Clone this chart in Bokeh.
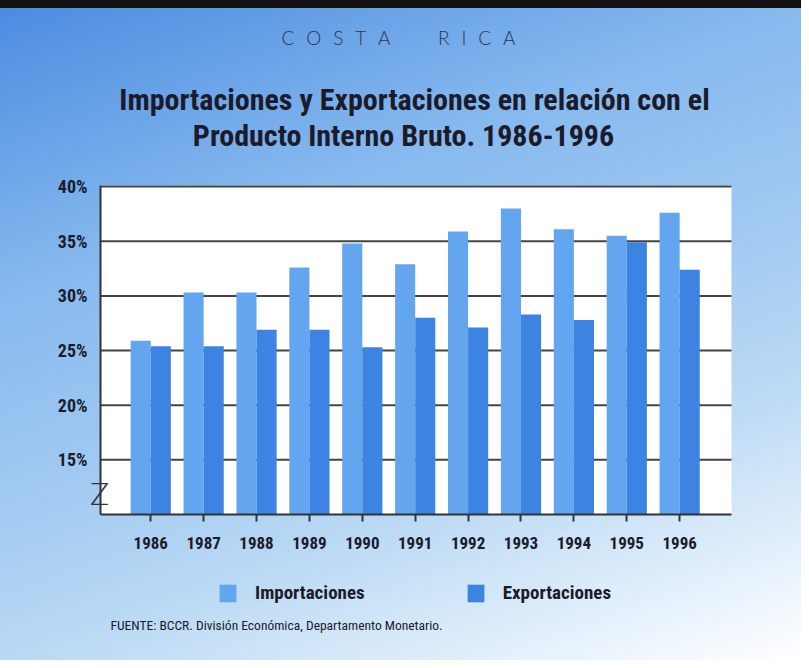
from bokeh.plotting import figure
from bokeh.models import Range1d, FixedTicker, Label, Legend, LegendItem, LinearAxis, BoxAnnotation
from bokeh.embed import file_html
from bokeh.resources import INLINE

years = ["1986", "1987", "1988", "1989", "1990", "1991", "1992", "1993", "1994", "1995", "1996"]
importaciones = [25.9, 30.3, 30.3, 32.6, 34.8, 32.9, 35.9, 38.0, 36.1, 35.5, 37.6]
exportaciones = [25.4, 25.4, 26.9, 26.9, 25.3, 28.0, 27.1, 28.3, 27.8, 34.9, 32.4]
y_ticks = [15, 20, 25, 30, 35, 40]

FONT = "'Liberation Sans Narrow', 'Roboto Condensed', 'Arial Narrow', sans-serif"
LIGHT = "'Lato Light', 'Open Sans Light', 'Lato', sans-serif"
DARK = "#1b1b2b"
C_IMP = "#64a5ef"
C_EXP = "#3d83e2"

# canvas geometry (pixels) and plot-area position
W, H = 801, 660
PL, PR, PT, PB = 100, 731, 185, 514          # plot area edges on canvas
XLO, XHI = -0.95, 10.98                      # data extent of plot area (x)
YLO, YHI = 10.0, 40.1                        # data extent of plot area (y)
kx = (XHI - XLO) / (PR - PL)
ky = (YHI - YLO) / (PB - PT)
x_range = Range1d(XLO - PL * kx, XHI + (W - PR) * kx)
y_range = Range1d(YLO - (H - PB) * ky, YHI + PT * ky)

idx = list(range(len(years)))
p = figure(width=W, height=H, output_backend="svg", toolbar_location=None,
           x_range=x_range, y_range=y_range, min_border=0,
           x_axis_location=None, y_axis_location=None)
p.xgrid.visible = False
p.ygrid.visible = False
p.border_fill_alpha = 0
p.background_fill_alpha = 0
p.outline_line_color = None
p.styles = {
    "background": "linear-gradient(#111111, #111111) top left / 100% 8px no-repeat, "
                  "linear-gradient(160deg, #4a8ae0 0%, #86b9ee 31%, #9dc7f1 50%, #b8d8f4 69%, "
                  "#dcecfa 85%, #ffffff 100%)"
}

# white plot area
p.add_layout(BoxAnnotation(left=XLO, right=XHI, bottom=YLO, top=YHI, fill_color="white",
                           fill_alpha=1, line_color=None, level="underlay"))
# horizontal grid lines
p.segment(x0=[XLO] * len(y_ticks), x1=[XHI] * len(y_ticks), y0=y_ticks, y1=y_ticks,
          line_color="#444444", line_width=2)

bw = 0.38
r_imp = p.vbar(x=[i - bw / 2 for i in idx], top=importaciones, bottom=YLO, width=bw,
               fill_color=C_IMP, line_color=None)
r_exp = p.vbar(x=[i + bw / 2 for i in idx], top=exportaciones, bottom=YLO, width=bw,
               fill_color=C_EXP, line_color=None)

# axes
xaxis = LinearAxis(fixed_location=YLO, bounds=(XLO, XHI))
xaxis.ticker = FixedTicker(ticks=idx)
xaxis.major_label_overrides = {i: y for i, y in zip(idx, years)}
xaxis.minor_tick_line_color = None
xaxis.major_tick_in = 0
xaxis.major_tick_out = 7
xaxis.major_tick_line_color = "#333333"
xaxis.major_tick_line_width = 2
xaxis.axis_line_color = "#333333"
xaxis.axis_line_width = 2
xaxis.major_label_standoff = 15
xaxis.major_label_text_font = FONT
xaxis.major_label_text_font_style = "bold"
xaxis.major_label_text_font_size = "17px"
xaxis.major_label_text_color = DARK
p.add_layout(xaxis, "below")

yaxis = LinearAxis(fixed_location=XLO, bounds=(YLO, YHI))
yaxis.ticker = FixedTicker(ticks=y_ticks)
yaxis.major_label_overrides = {v: f"{v}%" for v in y_ticks}
yaxis.minor_tick_line_color = None
yaxis.major_tick_in = 0
yaxis.major_tick_out = 0
yaxis.axis_line_color = "#333333"
yaxis.axis_line_width = 2
yaxis.major_label_standoff = 13
yaxis.major_label_text_font = FONT
yaxis.major_label_text_font_style = "bold"
yaxis.major_label_text_font_size = "18px"
yaxis.major_label_text_color = DARK
yaxis.major_label_text_baseline = "alphabetic"
p.add_layout(yaxis, "left")

# texts (screen units: from canvas left / bottom)
sep = "\u2002\u2009"
costa = sep.join("COSTA") + sep * 4 + sep.join("RICA")
p.add_layout(Label(x=398, y=H - 37, x_units="screen", y_units="screen",
                   text=costa, text_align="center", text_baseline="middle",
                   text_font=LIGHT, text_font_size="19px", text_color="#333344"))
p.add_layout(Label(x=414, y=H - 99, x_units="screen", y_units="screen",
                   text="Importaciones y Exportaciones en relación con el", text_align="center",
                   text_baseline="middle", text_font=FONT, text_font_style="bold",
                   text_font_size="30px", text_color=DARK))
p.add_layout(Label(x=403, y=H - 135, x_units="screen", y_units="screen",
                   text="Producto Interno Bruto. 1986-1996", text_align="center",
                   text_baseline="middle", text_font=FONT, text_font_style="bold",
                   text_font_size="30px", text_color=DARK))
p.add_layout(Label(x=110, y=H - 624, x_units="screen", y_units="screen",
                   text="FUENTE:  BCCR. División Económica, Departamento Monetario.", text_align="left",
                   text_baseline="middle", text_font=FONT,
                   text_font_size="13.5px", text_color=DARK))
p.add_layout(Label(x=99, y=H - 492, x_units="screen", y_units="screen",
                   text="Z", text_align="center", text_baseline="middle",
                   text_font=LIGHT, text_font_size="32px", text_color="#333333"))

legend = Legend(items=[LegendItem(label="Importaciones", renderers=[r_imp]),
                       LegendItem(label="Exportaciones", renderers=[r_exp])],
                location=(217, H - 604), orientation="horizontal",
                glyph_width=21, glyph_height=22, label_standoff=17, spacing=100,
                padding=0, margin=0, background_fill_alpha=0, border_line_color=None,
                label_text_font=FONT, label_text_font_style="bold",
                label_text_font_size="19px", label_text_color=DARK,
                label_height=22)
p.add_layout(legend, "center")

open("out.html", "w").write(file_html(p, INLINE))
